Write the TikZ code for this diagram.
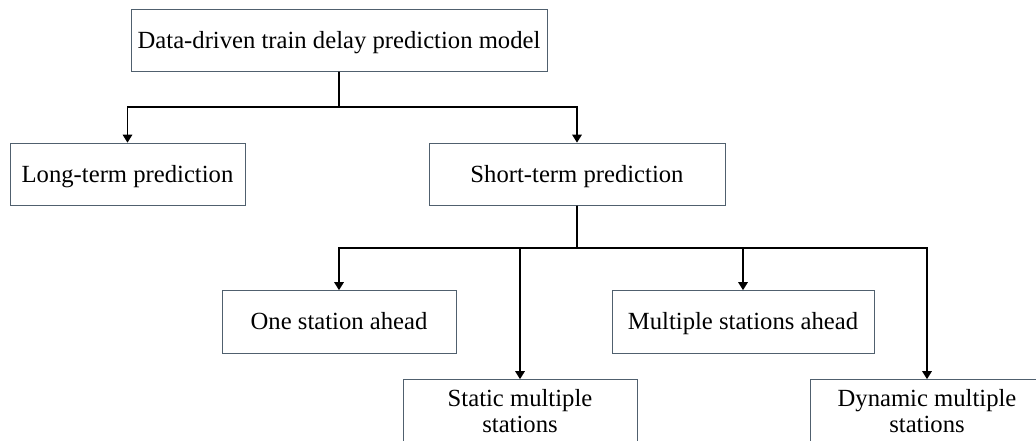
\documentclass[tikz,border=0pt]{standalone}
\usepackage{fontspec}
\setmainfont{Liberation Serif}
\usetikzlibrary{arrows.meta}
\definecolor{boxgray}{HTML}{50606E}

\begin{document}
\begin{tikzpicture}[
    x=0.75pt, y=-0.75pt,
    box/.style={draw=boxgray, line width=0.7pt, minimum width=#1*0.75pt,
                minimum height=47pt, align=center,
                font=\fontsize{18.5}{19}\selectfont},
    single/.style={box=#1, text height=15.5pt, text depth=3.5pt},
    link/.style={line width=1.4pt, line cap=round},
    arrow/.style={link, -{Triangle[length=6pt, width=7pt]}},
]
    \useasboundingbox (0,0) rectangle (1036,441);
    \clip (0,0) rectangle (1036,441);

    \node[single=416] (model) at (339,40.5) {Data-driven train delay prediction model};
    \node[single=235] (long) at (127.5,174.5) {Long-term prediction};
    \node[single=296] (short) at (577,174.5) {Short-term prediction};
    \node[single=234] (one) at (339,322) {One station ahead};
    \node[single=262] (multi) at (743,322) {Multiple stations ahead};
    \node[box=234] (static) at (520,411) {Static multiple\\stations};
    \node[box=234] (dynamic) at (927,411) {Dynamic multiple\\stations};

    % Branches
    \coordinate (bus1) at (339,107);
    \coordinate (bus2) at (577,248);
    \draw[link] (model.south) -- (bus1);
    \draw[arrow] (bus1) -| (long.north);
    \draw[arrow] (bus1) -| (short.north);
    \draw[link] (short.south) -- (bus2);
    \foreach \n in {one, static, multi, dynamic}
        \draw[arrow] (bus2) -| (\n.north);
\end{tikzpicture}
\end{document}
